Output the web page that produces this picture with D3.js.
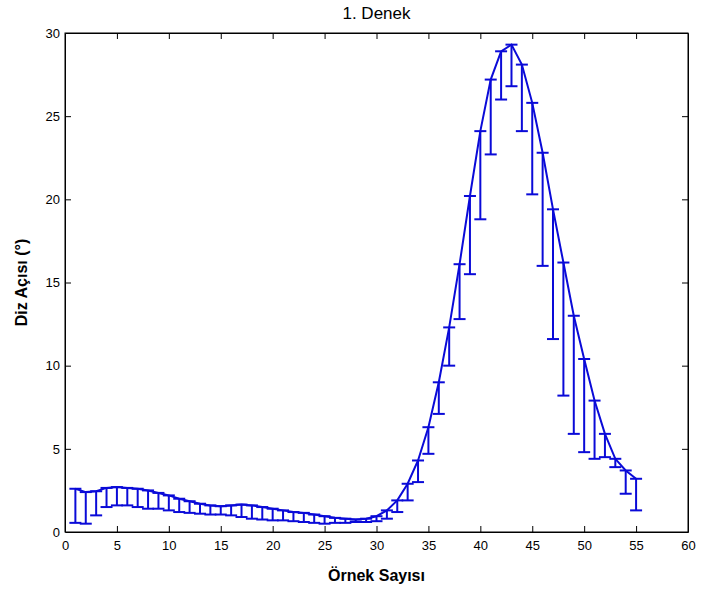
<!DOCTYPE html>
<html>
<head>
<meta charset="utf-8">
<script src="https://cdn.jsdelivr.net/npm/d3@7/dist/d3.min.js"></script>
<style>
  html, body { margin: 0; padding: 0; background: #ffffff; }
  svg { display: block; }
  text { font-family: "Liberation Sans", Arial, sans-serif; }
</style>
</head>
<body>
<svg id="chart" width="703" height="592"></svg>
<script>
// ---- Data ----
const sampleIndex = d3.range(1, 56); // 1..55
const meanAngle = [
  2.6, 2.4, 2.45, 2.65, 2.7, 2.65, 2.6, 2.5, 2.35, 2.2,
  2.0, 1.85, 1.7, 1.6, 1.55, 1.6, 1.65, 1.6, 1.5, 1.4,
  1.3, 1.2, 1.15, 1.05, 0.95, 0.85, 0.8, 0.75, 0.8, 0.95,
  1.3, 1.9, 2.9, 4.3, 6.3, 9.0, 12.3, 16.1, 20.2, 24.1,
  27.2, 28.9, 29.3, 28.1, 25.8, 22.8, 19.4, 16.2, 13.0, 10.4,
  7.9, 5.9, 4.4, 3.7, 3.2
];
const lowerAngle = [
  0.55, 0.5, 1.0, 1.5, 1.6, 1.6, 1.5, 1.4, 1.4, 1.3,
  1.2, 1.15, 1.1, 1.05, 1.05, 1.0, 0.9, 0.8, 0.75, 0.7,
  0.7, 0.65, 0.6, 0.55, 0.5, 0.55, 0.55, 0.6, 0.6, 0.65,
  0.8, 1.2, 1.9, 3.0, 4.7, 7.1, 10.0, 12.8, 15.5, 18.8,
  22.7, 26.0, 26.8, 24.1, 20.3, 16.0, 11.6, 8.2, 5.9, 4.8,
  4.4, 4.5, 3.9, 2.3, 1.3
];
const xTicks = [0, 5, 10, 15, 20, 25, 30, 35, 40, 45, 50, 55, 60];
const yTicks = [0, 5, 10, 15, 20, 25, 30];
const titleText = "1. Denek";
const xLabelText = "Örnek Sayısı";
const yLabelText = "Diz Açısı (°)";

(function draw() {
  const W = 703, H = 592;
  const pL = 65, pR = 688, pT = 33, pB = 532;
  const blue = "#0a0ad8";

  const svg = d3.select("#chart");
  svg.append("rect").attr("width", W).attr("height", H).attr("fill", "#fff");

  const x = d3.scaleLinear().domain([0, 60]).range([pL, pR]);
  const y = d3.scaleLinear().domain([0, 30]).range([pB, pT]);

  const tickLen = 6;
  const axB = svg.append("g").attr("transform", `translate(0,${pB})`)
    .call(d3.axisBottom(x).tickValues(xTicks).tickSizeInner(-tickLen).tickSizeOuter(0).tickPadding(9));
  const axT = svg.append("g").attr("transform", `translate(0,${pT})`)
    .call(d3.axisTop(x).tickValues(xTicks).tickSizeInner(-tickLen).tickSizeOuter(0).tickFormat(""));
  const axL = svg.append("g").attr("transform", `translate(${pL},0)`)
    .call(d3.axisLeft(y).tickValues(yTicks).tickSizeInner(-tickLen).tickSizeOuter(0).tickPadding(5));
  const axR = svg.append("g").attr("transform", `translate(${pR},0)`)
    .call(d3.axisRight(y).tickValues(yTicks).tickSizeInner(-tickLen).tickSizeOuter(0).tickFormat(""));

  [axB, axT, axL, axR].forEach(g => {
    g.select(".domain").attr("stroke", "#000").attr("stroke-width", 1);
    g.selectAll(".tick line").attr("stroke", "#000").attr("stroke-width", 1);
    g.selectAll(".tick text").attr("fill", "#000").style("font-size", "13px")
      .style("font-family", "'Liberation Sans', Arial, sans-serif");
  });
  axB.selectAll(".tick").filter(d => d === 0 || d === 60).select("line").remove();
  axT.selectAll(".tick").filter(d => d === 0 || d === 60).select("line").remove();
  axL.selectAll(".tick").filter(d => d === 0 || d === 30).select("line").remove();
  axR.selectAll(".tick").filter(d => d === 0 || d === 30).select("line").remove();

  svg.append("rect").attr("x", pL).attr("y", pT)
    .attr("width", pR - pL).attr("height", pB - pT)
    .attr("fill", "none").attr("stroke", "#000").attr("stroke-width", 1);

  const rows = sampleIndex.map((s, i) => ({ s, m: meanAngle[i], lo: lowerAngle[i] }));

  const capHalf = 6;
  const eb = svg.append("g").attr("stroke", blue).attr("stroke-width", 2).attr("fill", "none");
  eb.selectAll("line.v").data(rows).join("line").attr("class", "v")
    .attr("x1", d => x(d.s)).attr("x2", d => x(d.s))
    .attr("y1", d => y(d.m)).attr("y2", d => y(d.lo));
  eb.selectAll("line.ct").data(rows).join("line").attr("class", "ct")
    .attr("x1", d => x(d.s) - capHalf).attr("x2", d => x(d.s) + capHalf)
    .attr("y1", d => y(d.m)).attr("y2", d => y(d.m));
  eb.selectAll("line.cb").data(rows).join("line").attr("class", "cb")
    .attr("x1", d => x(d.s) - capHalf).attr("x2", d => x(d.s) + capHalf)
    .attr("y1", d => y(d.lo)).attr("y2", d => y(d.lo));

  svg.append("path").datum(rows)
    .attr("fill", "none").attr("stroke", blue).attr("stroke-width", 2)
    .attr("d", d3.line().x(d => x(d.s)).y(d => y(d.m)));

  svg.append("text").attr("x", (pL + pR) / 2).attr("y", 19)
    .attr("text-anchor", "middle").style("font-size", "17px").attr("fill", "#000")
    .text(titleText);
  svg.append("text").attr("x", (pL + pR) / 2).attr("y", 581)
    .attr("text-anchor", "middle").style("font-size", "16px").style("font-weight", "bold").attr("fill", "#000")
    .text(xLabelText);
  svg.append("text").attr("transform", `translate(27,${(pT + pB) / 2}) rotate(-90)`)
    .attr("text-anchor", "middle").style("font-size", "16px").style("font-weight", "bold").attr("fill", "#000")
    .text(yLabelText);
})();
</script>
</body>
</html>
